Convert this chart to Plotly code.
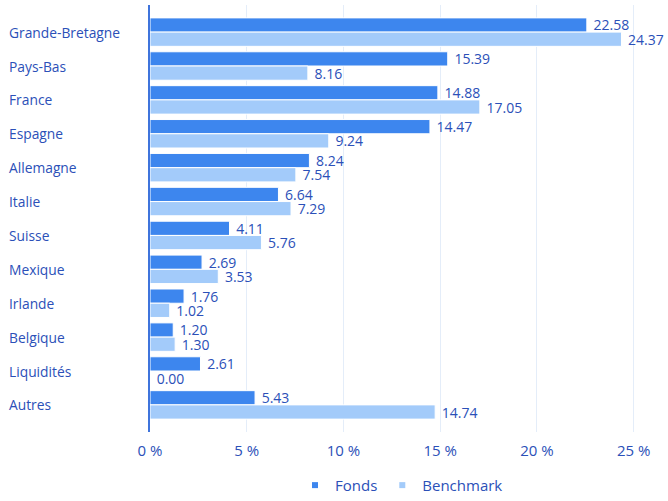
import plotly.graph_objects as go

categories = ["Grande-Bretagne", "Pays-Bas", "France", "Espagne", "Allemagne", "Italie",
              "Suisse", "Mexique", "Irlande", "Belgique", "Liquidités", "Autres"]
fonds = [22.58, 15.39, 14.88, 14.47, 8.24, 6.64, 4.11, 2.69, 1.76, 1.20, 2.61, 5.43]
benchmark = [24.37, 8.16, 17.05, 9.24, 7.54, 7.29, 5.76, 3.53, 1.02, 1.30, 0.00, 14.74]
tick_vals = [0, 5, 10, 15, 20, 25]
tick_labels = ["0 %", "5 %", "10 %", "15 %", "20 %", "25 %"]

TEXT = "#2b50b8"
FONT = "Open Sans"

fig = go.Figure()
series = [("Fonds", fonds, "#3d86ee"), ("Benchmark", benchmark, "#a3cbfa")]
for name, vals, color in series:
    fig.add_trace(go.Bar(
        name=name, y=categories, x=vals, orientation="h", showlegend=False,
        marker=dict(color=color, line=dict(color="white", width=1)),
        text=[f" {v:.2f}" for v in vals], textposition="outside",
        textfont=dict(color=TEXT, size=14, family=FONT),
        constraintext="none", cliponaxis=False,
    ))
# legend-only entries with small square symbols
for name, vals, color in series:
    fig.add_trace(go.Scatter(
        name=name, x=[None], y=[None], mode="markers",
        marker=dict(symbol="square", size=6, color=color), showlegend=True,
    ))

W, H = 668, 501
ml, mr, mt, mb = 150, 15, 5, 69
pw = W - ml - mr
for c in categories:
    fig.add_annotation(text=c, x=(7 - ml) / pw, xref="paper", y=c, yref="y",
                       xanchor="left", yanchor="middle", showarrow=False,
                       font=dict(color=TEXT, size=13.8, family=FONT))

fig.update_layout(
    width=W, height=H, margin=dict(l=ml, r=mr, t=mt, b=mb, autoexpand=False),
    barmode="group", bargap=0.16, bargroupgap=0,
    plot_bgcolor="white", paper_bgcolor="white",
    font=dict(family=FONT, color=TEXT),
    xaxis=dict(range=[0, 26], tickmode="array", tickvals=tick_vals, ticktext=tick_labels,
               showgrid=True, gridcolor="#e4edf9", gridwidth=1, zeroline=False,
               tickfont=dict(size=15, color=TEXT), ticks="", ticklabelstandoff=8,
               automargin=False),
    yaxis=dict(categoryorder="array", categoryarray=categories,
               range=[11.8, -0.8], showticklabels=False, showgrid=False,
               showline=True, linecolor="#3f74dc", linewidth=1.5, zeroline=False,
               automargin=False),
    legend=dict(orientation="h", x=0.5, xanchor="center", y=-0.125, yanchor="middle",
                font=dict(size=15, color=TEXT), itemwidth=30, traceorder="normal",
                tracegroupgap=0),
)
fig.write_html("out.html", config={"displayModeBar": False},
               post_script="document.body.style.margin='0px';document.body.style.overflow='hidden';")
